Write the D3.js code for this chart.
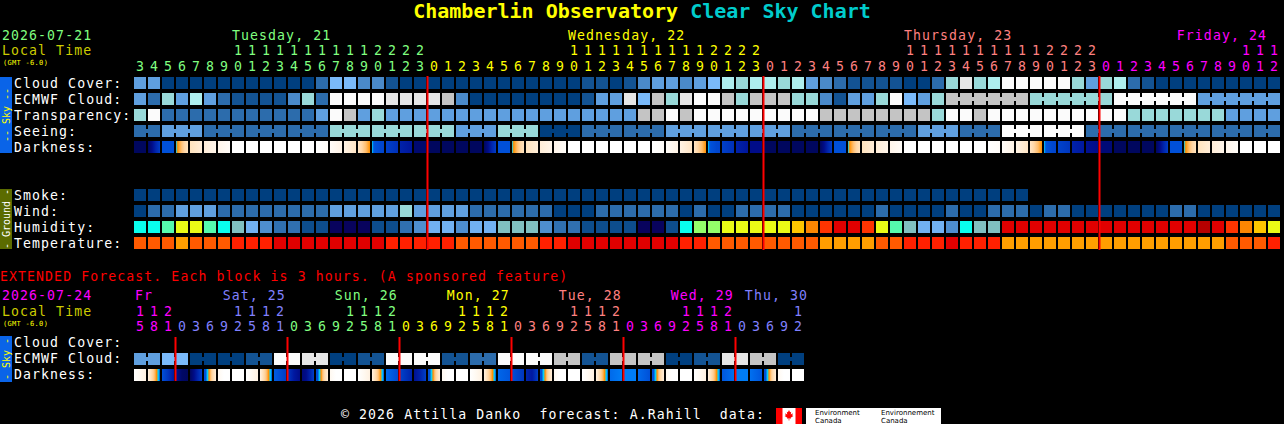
<!DOCTYPE html>
<html><head><meta charset="utf-8">
<script src="https://cdn.jsdelivr.net/npm/d3@7"></script>
<style>
html,body{margin:0;padding:0;background:#000;}
svg{display:block;}
text{font-family:"DejaVu Sans Mono",monospace;}
</style></head><body>
<svg id="c" width="1284" height="424"></svg>
<script>
// ---------------- DATA ----------------
const titleMain = "Chamberlin Observatory";
const titleSub = "Clear Sky Chart";
const startDate = "2026-07-21";
const extDate = "2026-07-24";
const tzLabel = "(GMT -6.0)";
const skyRows = ["Cloud Cover:", "ECMWF Cloud:", "Transparency:", "Seeing:", "Darkness:"];
const groundRows = ["Smoke:", "Wind:", "Humidity:", "Temperature:"];
const extRows = ["Cloud Cover:", "ECMWF Cloud:", "Darkness:"];

const dayLabels = ["Tuesday, 21", "Wednesday, 22", "Thursday, 23", "Friday, 24"];
const dayColors = ["#80ff80", "#ffff00", "#ff8080", "#ff00ff"];
const dayHours = [
  [3,4,5,6,7,8,9,10,11,12,13,14,15,16,17,18,19,20,21,22,23],
  [0,1,2,3,4,5,6,7,8,9,10,11,12,13,14,15,16,17,18,19,20,21,22,23],
  [0,1,2,3,4,5,6,7,8,9,10,11,12,13,14,15,16,17,18,19,20,21,22,23],
  [0,1,2,3,4,5,6,7,8,9,10,11,12]
];

// cloud levels 0 (clear) .. 10 (overcast)
const cloudCover = [
  4,4,0,0,0,0,0,0,0,0,0,0,0,2,5,5,3,3,1,0,0,
  0,0,0,0,0,0,0,0,0,0,0,1,1,0,1,3,4,4,3,4,5,7,6,7,
  7,6,7,4,3,2,1,1,1,1,0,0,2,6,9,6,7,10,10,10,10,10,6,4,
  6,7,2,1,0,0,0,0,0,0,0,0,0
];
const ecmwfCloud = [
  4,2,6,4,7,4,2,1,1,1,1,3,6,2,10,10,10,10,9,9,9,
  9,8,3,0,0,0,0,0,0,0,0,1,4,4,9,5,8,6,9,10,10,8,6,8,
  8,8,6,6,3,1,4,4,6,10,5,4,6,8,8,8,8,8,8,6,6,6,6,6,
  6,10,10,10,10,10,10,4,4,4,4,4,4
];
// transparency 0 too cloudy .. 5 transparent
const transparency = [
  2,0,4,4,4,4,4,4,4,4,4,4,4,3,0,1,3,2,3,3,3,
  3,3,3,3,3,3,3,3,3,3,3,3,3,3,3,1,1,0,1,0,0,0,0,0,
  0,0,0,0,1,1,1,1,1,1,1,1,2,0,0,1,0,0,0,0,0,0,0,0,
  0,0,2,2,2,2,2,2,2,3,3,3,3
];
// seeing 0 too cloudy .. 5 excellent
const seeing = [
  4,4,3,3,3,4,4,4,4,4,4,4,4,4,2,2,2,2,2,2,2,
  2,2,3,3,3,2,2,2,5,5,5,4,4,4,4,4,4,3,3,3,3,3,3,3,
  3,3,4,4,4,4,4,4,4,4,4,3,3,3,4,4,4,0,0,0,0,0,0,4,
  4,4,4,4,4,4,4,4,4,4,4,4,4
];
// darkness (limiting-magnitude like); arrays are within-hour gradients
const dawn = [0,-1,-1.3,-1.6,-1.9,-2.2,-2.4,-2.6];
const dusk = [0,2.8,3,3.1,3.2,3.3,3.3,3.4];
const darkness = [
  5.5,[5.5,5,4.2,3.6],3,dawn,[-2.6,-3],[-3,-3.4],[-3.4,-3.8],-4,-4,-4,-4,-4,-4,[-4,-3.8],[-3.8,-3.3],[-3.3,-2.7],[-2.7,-2.2,-1.6,-1],dusk,[3.5,4],[4.3,4.6],5.3,
  5.5,5.5,5.5,5.5,[5.5,5,4.2,3.6],3,dawn,[-2.6,-3],[-3,-3.4],[-3.4,-3.8],-4,-4,-4,-4,-4,-4,[-4,-3.8],[-3.8,-3.3],[-3.3,-2.7],[-2.7,-2.2,-1.6,-1],dusk,[3.5,4],[4.3,4.6],5.0,
  5.5,5.5,5.5,5.5,[5.5,5,4.2,3.6],3,dawn,[-2.6,-3],[-3,-3.4],[-3.4,-3.8],-4,-4,-4,-4,-4,-4,[-4,-3.8],[-3.8,-3.3],[-3.3,-2.7],[-2.7,-2.2,-1.6,-1],dusk,[3.4,3.8],[4.3,4.5],[4.8,5],
  5.2,5.5,5.5,5.5,[5.5,5,4.2,3.6],3,dawn,[-2.6,-3],[-3,-3.4],[-3.4,-3.8],-4,-4,-4
];
const smoke = [
  0,0,0,0,0,0,0,0,0,0,0,0,0,0,0,0,0,0,0,0,0,0,0,0,0,0,0,0,0,0,0,0,
  0,0,0,0,0,0,0,0,0,0,0,0,0,0,0,0,0,0,0,0,0,0,0,0,0,0,0,0,0,0,0,0
];
// wind 0 (0-5 mph) .. 5
const wind = [
  0,1,1,2,2,2,1,1,1,1,1,1,1,1,2,2,2,2,2,3,2,
  2,2,2,1,1,1,1,1,1,0,0,0,1,1,1,1,1,1,0,1,0,0,1,1,
  1,1,0,0,0,0,0,0,1,0,0,0,0,1,0,0,1,1,1,0,1,1,0,0,
  0,0,0,0,0,1,1,0,0,0,0,0,0
];
// humidity class 0 (<25%) .. 14 (>95%)
const humidity = [
  6,6,7,9,9,7,6,5,4,3,2,2,1,1,0,0,0,1,1,2,3,
  4,4,3,4,4,5,5,5,3,2,2,1,1,1,1,0,0,1,6,8,8,9,9,9,
  9,9,10,11,12,13,13,12,9,7,5,4,4,3,6,5,5,13,13,13,13,13,13,13,
  13,13,13,13,13,13,13,14,13,12,11,10,9
];
// temperature (deg C)
const temperature = [
  25,25,25,23,25,25,25,28,28,28,31,31,31,31,31,31,31,31,28,28,28,
  28,28,25,25,25,25,25,25,28,28,31,31,31,31,31,31,31,31,28,28,25,25,25,25,
  25,25,25,25,23,23,23,23,25,25,28,28,28,31,28,28,28,23,23,23,23,23,23,23,
  23,23,23,23,23,23,23,23,23,25,25,25,28
];

// ---- extended forecast (3-hour blocks)
const extDayLabels = ["Fr", "Sat, 25", "Sun, 26", "Mon, 27", "Tue, 28", "Wed, 29", "Thu, 30"];
const extDayColors = ["#ff00ff", "#8080ff", "#80ff80", "#ffff00", "#ff8080", "#ff00ff", "#8080ff"];
const extDayHours = [
  [15,18,21],
  [0,3,6,9,12,15,18,21],
  [0,3,6,9,12,15,18,21],
  [0,3,6,9,12,15,18,21],
  [0,3,6,9,12,15,18,21],
  [0,3,6,9,12,15,18,21],
  [0,3,6,9,12]
];
const extEcmwf = [4,4,5,5,0,0,0,0,1,1,10,10,9,9,0,0,1,1,10,10,10,10,1,1,
                  2,2,10,10,10,10,8,8,1,1,8,8,8,8,0,0,1,1,9,9,8,8,0,0];
const eDusk = [-3.2,-2.8,-2.4,-2,-1.5,-1,0,3];
const eDawn = [3,3,0,-1,-1.8,-2.3,-2.7,-3];
const extDarkness = [
  [-4,-3.6,-3.2],eDusk,[3,3.8,4.5],[4.8,5.4,5.5],[5.5,5,4.2,3.5],eDawn,[-3.6,-4,-4],-4,
  [-4,-3.6,-3.2],eDusk,[2.6,3.6],[3.8,4.5,5],[5.2,5,4.3,3.5],eDawn,[-3.6,-4,-4],-4,
  [-4,-3.6,-3.2],eDusk,[2.2,3.2],[3.4,4.3],[4.8,4.3,3.5],eDawn,[-3.6,-4,-4],-4,
  [-4,-3.6,-3.2],eDusk,[2.3,2.8],[3,3.8],[4.2,4.5,3.5],eDawn,[-3.6,-4,-4],-4,
  [-4,-3.6,-3.2],eDusk,[2.2,1.8],1.8,[2.2,3],eDawn,[-3.6,-4,-4],-4,
  [-4,-3.6,-3.2],eDusk,[2.8,2],1.8,[2,2.8],eDawn,[-3.6,-4,-4],-4
];

const footerText = "© 2026 Attilla Danko  forecast: A.Rahill  data:";

// ---------------- SCALES ----------------
const cloudColor = d3.scaleOrdinal().domain(d3.range(11))
  .range(["#003f7f","#135393","#2c6cac","#4a8aca","#5f9fdf","#7abafa","#99d9d9","#aeeeee","#c4c4c4","#e6e6e6","#fbfbfb"]);
const transColor = d3.scaleOrdinal().domain(d3.range(6))
  .range(["#fbfbfb","#c4c4c4","#99d9d9","#5f9fdf","#2c6cac","#003f7f"]);
const seeingColor = transColor.copy();
const windColor = d3.scaleOrdinal().domain(d3.range(6))
  .range(["#003f7f","#2c6cac","#5f9fdf","#99d9d9","#c4c4c4","#fbfbfb"]);
const smokeColor = d3.scaleOrdinal().domain([0]).range(["#003f7f"]);
const humColor = d3.scaleOrdinal().domain(d3.range(15))
  .range(["#08035d","#0d4d8d","#3070b0","#4e8ece","#71b1f1","#80c0c0","#09feed","#55faad","#94fe6a","#eafb16","#fec600","#fc8602","#fe3401","#e10000","#b70000"]);
const tempColor = d3.scaleThreshold().domain([24, 26.5, 29.5])
  .range(["#ff9e00","#ff5a00","#ff2000","#e00000"]);
const darkColor = d3.scaleLinear()
  .domain([-4,-3.5,-3,-2.5,-2,-1.5,-1,-0.001,0,1.5,2,3,3.5,4,4.5,5,5.5])
  .range(["#ffffff","#fff7ee","#ffedd8","#ffe0b8","#ffd098","#ffb860","#ff9000","#ff9000","#00d0ff","#0090ff","#0070f0","#0050d8","#0040c8","#0030b8","#0018a0","#000c88","#00075e"])
  .clamp(true);

const hours = dayHours.flat();
const dayOf = dayHours.flatMap((h, d) => h.map(() => d));
const N = hours.length;
const X0 = 134, STEP = 14, CELL = 12;
const x = d3.scaleBand().domain(d3.range(N)).range([X0, X0 + N * STEP - 2]).paddingInner(2 / 14).paddingOuter(0);

const extHours = extDayHours.flat();
const extDayOf = extDayHours.flatMap((h, d) => h.map(() => d));
const NE = extHours.length;
const xe = d3.scaleBand().domain(d3.range(NE)).range([X0, X0 + NE * STEP - 2]).paddingInner(2 / 14).paddingOuter(0);

const rowY = i => 77 + 16 * i;
const extRowY = i => 337 + 16 * i;

// ---------------- DRAW ----------------
const FS = 13.2, LS = 1.08;   // text size and spacing giving a 9px character pitch
const svg = d3.select("#c");
const defs = svg.append("defs");
svg.append("rect").attr("width", 1284).attr("height", 424).attr("fill", "#000");

function text(g, px, py, s, fill, size, ls) {
  return g.append("text").attr("x", px).attr("y", py).attr("fill", fill)
    .attr("font-size", size).attr("letter-spacing", ls == null ? LS : ls)
    .attr("xml:space", "preserve").style("white-space", "pre").text(s);
}

let gid = 0;
function darkFill(v) {
  if (!Array.isArray(v)) return darkColor(v);
  const id = "dk" + (gid++);
  const lg = defs.append("linearGradient").attr("id", id)
    .attr("x1", "0").attr("x2", "1").attr("y1", "0").attr("y2", "0");
  v.forEach((d, i) => lg.append("stop").attr("offset", i / (v.length - 1)).attr("stop-color", darkColor(d)));
  return `url(#${id})`;
}

function drawRow(xs, y, vals, fill, join) {
  const g = svg.append("g");
  g.selectAll("rect.cell").data(vals).join("rect").attr("class", "cell")
    .attr("x", (d, i) => xs(i)).attr("y", y)
    .attr("width", xs.bandwidth()).attr("height", CELL)
    .attr("fill", d => fill(d));
  if (join) {
    const links = d3.range(vals.length - 1).filter(i => join(i));
    g.selectAll("rect.link").data(links).join("rect").attr("class", "link")
      .attr("x", i => xs(i) + xs.bandwidth()).attr("y", y + 4)
      .attr("width", xs.step() - xs.bandwidth()).attr("height", 4)
      .attr("fill", i => fill(vals[i]));
  }
}

// title
const tt = svg.append("text").attr("x", 642).attr("y", 18).attr("text-anchor", "middle")
  .attr("font-size", 20).attr("font-weight", "bold").attr("xml:space", "preserve");
tt.append("tspan").attr("fill", "#ffff00").text(titleMain + " ");
tt.append("tspan").attr("fill", "#00cccc").text(titleSub);

// header left
const hg = svg.append("g");
text(hg, 2, 39.5, startDate, "#80ff80", FS);
text(hg, 2, 55, "Local Time", "#cccc00", FS);
text(hg, 3, 65, tzLabel, "#ffff00", 7, 0.3);

// hour labels
function hourLabels(xs, hrs, dOf, colors, yT, yU) {
  const g = svg.append("g").attr("font-size", FS).attr("text-anchor", "middle");
  const items = hrs.map((h, i) => ({h, i}));
  g.selectAll("text.t").data(items.filter(d => d.h >= 10)).join("text")
    .attr("class", "t").attr("x", d => xs(d.i) + CELL / 2).attr("y", yT)
    .attr("fill", d => colors[dOf[d.i]]).text(d => Math.floor(d.h / 10));
  g.selectAll("text.u").data(items).join("text")
    .attr("class", "u").attr("x", d => xs(d.i) + CELL / 2).attr("y", yU)
    .attr("fill", d => colors[dOf[d.i]]).text(d => d.h % 10);
}
hourLabels(x, hours, dayOf, dayColors, 55, 70.5);

// day labels (positioned at 10:00 of each day)
let first = 0;
dayLabels.forEach((lab, d) => {
  const lx = X0 + STEP * (first - dayHours[d][0] + 10);
  const t = text(hg, lx, 39.5, lab, dayColors[d], FS);
  const w = t.node().getComputedTextLength();
  if (lx + w > 1267) t.attr("x", 1267 - w);
  first += dayHours[d].length;
});

// row labels
skyRows.forEach((s, i) => text(hg, 14, rowY(i) + 10.5, s, "#ffffff", FS));
groundRows.forEach((s, i) => text(hg, 14, rowY(i + 7) + 10.5, s, "#ffffff", FS));

// side bars
function sideBar(y0, y1, color, label, tcolor) {
  svg.append("rect").attr("x", 0).attr("y", y0).attr("width", 12).attr("height", y1 - y0).attr("fill", color);
  svg.append("text").attr("transform", `translate(9.5,${(y0 + y1) / 2}) rotate(-90)`)
    .attr("text-anchor", "middle").attr("font-size", 10).attr("fill", tcolor)
    .attr("xml:space", "preserve").text(label);
}
sideBar(77, 153, "#0a64e8", "-- Sky --", "#ffff00");
sideBar(189, 249, "#5b6b00", "- Ground -", "#ffffff");

// rows
drawRow(x, rowY(0), cloudCover, cloudColor);
const ecmwfJoinFrom = 58;
drawRow(x, rowY(1), ecmwfCloud, cloudColor, i => i >= ecmwfJoinFrom && hours[i + 1] % 6 !== 1);
drawRow(x, rowY(2), transparency, transColor);
drawRow(x, rowY(3), seeing, seeingColor, i => hours[i + 1] % 3 !== 2);
drawRow(x, rowY(4), darkness, darkFill);
drawRow(x, rowY(7), smoke, smokeColor);
drawRow(x, rowY(8), wind, windColor);
drawRow(x, rowY(9), humidity, humColor);
drawRow(x, rowY(10), temperature, tempColor);

// midnight lines
const mids = d3.range(1, N).filter(i => hours[i] === 0);
svg.append("g").selectAll("rect").data(mids).join("rect")
  .attr("x", i => x(i) - 1.5).attr("y", 76).attr("width", 2).attr("height", 174).attr("fill", "#ff0000");

// ---- extended
const eg = svg.append("g");
text(eg, 0, 281, "EXTENDED Forecast. Each block is 3 hours. (A sponsored feature)", "#ff0000", FS);
text(eg, 2, 300, extDate, "#ff00ff", FS);
text(eg, 2, 315.5, "Local Time", "#cccc00", FS);
text(eg, 3, 325.5, tzLabel, "#ffff00", 7, 0.3);

hourLabels(xe, extHours, extDayOf, extDayColors, 315.5, 331);

let efirst = 0;
extDayLabels.forEach((lab, d) => {
  let lx = X0 + STEP * (efirst + (10 - extDayHours[d][0]) / 3);
  lx = Math.max(lx, X0 + 1);
  const t = text(eg, lx, 300, lab, extDayColors[d], FS);
  const w = t.node().getComputedTextLength();
  if (lx + w > 808) t.attr("x", 808 - w);
  efirst += extDayHours[d].length;
});

extRows.forEach((s, i) => text(eg, 14, extRowY(i) + 10, s, "#ffffff", FS));
sideBar(336, 382, "#0a64e8", "- Sky -", "#ffff00");

drawRow(xe, extRowY(1), extEcmwf, cloudColor, i => i % 2 === 0);
drawRow(xe, extRowY(2), extDarkness, darkFill);

const emids = d3.range(1, NE).filter(i => extHours[i] === 0);
svg.append("g").selectAll("rect").data(emids).join("rect")
  .attr("x", i => xe(i) - 1.5).attr("y", 337).attr("width", 2).attr("height", 44).attr("fill", "#ff0000");

// ---- footer
const fg = svg.append("g");
text(fg, 341, 419, footerText, "#ffffff", FS);
// flag
fg.append("rect").attr("x", 776).attr("y", 408).attr("width", 26).attr("height", 16).attr("fill", "#ffffff");
fg.append("rect").attr("x", 776).attr("y", 408).attr("width", 6.5).attr("height", 16).attr("fill", "#ff0000");
fg.append("rect").attr("x", 795.5).attr("y", 408).attr("width", 6.5).attr("height", 16).attr("fill", "#ff0000");
const leaf = [[0,-5],[1,-3],[2,-3.5],[1.6,-1],[3.5,-2],[3,0],[4,0.5],[1.5,2],[1.8,3],[0.3,2.6],[0.3,4.5],[-0.3,4.5],[-0.3,2.6],[-1.8,3],[-1.5,2],[-4,0.5],[-3,0],[-3.5,-2],[-1.6,-1],[-2,-3.5],[-1,-3]];
fg.append("polygon").attr("points", leaf.map(p => [789 + p[0] * 1.1, 415.5 + p[1] * 1.1].join(",")).join(" ")).attr("fill", "#ff0000");
fg.append("rect").attr("x", 806).attr("y", 408).attr("width", 135).attr("height", 16).attr("fill", "#ffffff");
const envG = fg.append("g").attr("font-size", 7).attr("fill", "#000");
[["Environment", 815], ["Environnement", 881]].forEach(([s, px]) => {
  envG.append("text").attr("x", px).attr("y", 415).style("font-family", "'DejaVu Sans', sans-serif").text(s);
  envG.append("text").attr("x", px).attr("y", 423).style("font-family", "'DejaVu Sans', sans-serif").text("Canada");
});
</script>
</body></html>
